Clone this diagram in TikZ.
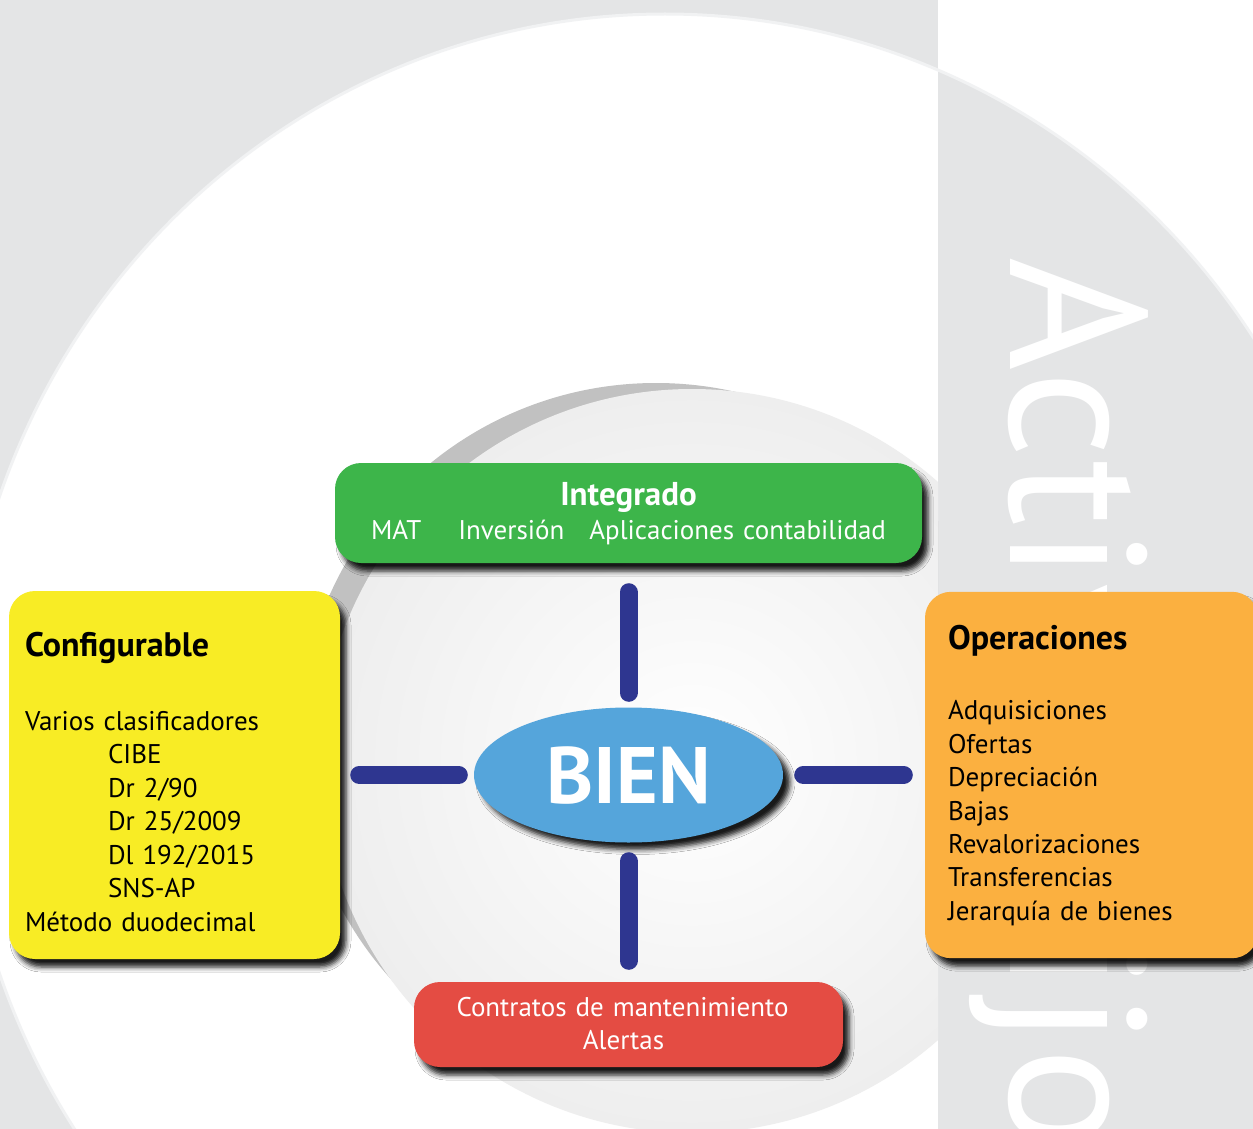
\documentclass[tikz,border=0pt]{standalone}
\usepackage{fontspec}
\setmainfont{PT Sans}
\usetikzlibrary{positioning,shapes.geometric,shadows.blur}

\definecolor{fondo}{HTML}{E4E5E6}
\definecolor{anillo}{HTML}{C1C1C1}
\definecolor{interior}{HTML}{EEEEEE}
\definecolor{verde}{HTML}{3DB54A}
\definecolor{amarillo}{HTML}{F8EC25}
\definecolor{naranja}{HTML}{FBB040}
\definecolor{rojo}{HTML}{E44C43}
\definecolor{azul}{HTML}{55A5DB}
\definecolor{azuloscuro}{HTML}{2E3690}

\begin{document}
\begin{tikzpicture}[x=1pt ,y=-1pt ,node distance =262pt and 454pt ,on grid ,
panel/.style ={rounded corners=26pt ,inner ysep=0pt ,
blur shadow={shadow xshift=6pt ,shadow yshift=-8pt ,shadow blur radius=5pt ,shadow opacity=90}},
conector/.style ={draw=azuloscuro ,line width=18pt ,line cap=round}]
\useasboundingbox (0,0) rectangle (1253,1129);
% fondo y franja
\fill[fondo] (0,0) rectangle (1253,1129);
\fill[white] (665,735) ellipse [x radius=705, y radius=721];
\fill[white] (938,0) rectangle (1253,1129);
\begin{scope}
\clip (938,0) rectangle (1253,1129);
\fill[fondo] (665,735) ellipse [x radius=705, y radius=721];
\end{scope}
\draw[white!50!fondo ,line width=3pt] (665,735) ellipse [x radius=705, y radius=721];
\node[anchor=base west ,rotate=-90 ,inner sep=0pt ,text=white ,
font=\fontsize{194}{194}\selectfont\addfontfeatures{LetterSpace=1.3}] (Titulo) at (1010,257) {Activo Fijo};

% circulo central
\begin{scope}
\clip (0,0) rectangle (938,1129);
\fill[anillo] (656,740) circle [radius=357];
\shade[inner color=white ,outer color=interior] (692,761) circle [radius=372];
\end{scope}

\node[ellipse ,fill=azul ,minimum width=309pt ,minimum height=135pt ,inner sep=0pt ,
text=white ,font=\fontsize{80}{80}\selectfont\bfseries ,
blur shadow={shadow xshift=7pt ,shadow yshift=-7pt ,shadow blur radius=5pt ,shadow opacity=90}] (Bien) at (628.5,775) {BIEN};

\node[panel ,fill=verde ,text=white ,text width=587pt ,inner xsep=0pt ,align=center ,
font=\fontsize{27}{34}\selectfont] (Integrado) [above=of Bien]
{\rule{0pt}{42pt}{\bfseries\fontsize{33}{34}\selectfont Integrado}\\
MAT\hspace{37pt}Inversión\hspace{25pt}Aplicaciones contabilidad\rule[-24pt]{0pt}{24pt}};

\node[panel ,fill=amarillo ,text width=299pt ,inner xsep=16pt ,align=left ,
font=\fontsize{27}{33.5}\selectfont] (Configurable) [left=of Bien]
{\rule{0pt}{65pt}{\bfseries\fontsize{34}{33.5}\selectfont Configurable}\\[40.5pt]
Varios clasificadores\\
\hspace*{83pt}CIBE\\
\hspace*{83pt}Dr 2/90\\
\hspace*{83pt}Dr 25/2009\\
\hspace*{83pt}Dl 192/2015\\
\hspace*{83pt}SNS-AP\\
Método duodecimal\rule[-28pt]{0pt}{28pt}};

\node[panel ,fill=naranja ,text width=287pt ,inner xsep=23pt ,align=left ,
font=\fontsize{27}{33.4}\selectfont] (Operaciones) [right=463pt of Bien]
{\rule{0pt}{58pt}{\bfseries\fontsize{34}{33.4}\selectfont Operaciones}\\[36.6pt]
Adquisiciones\\
Ofertas\\
Depreciación\\
Bajas\\
Revalorizaciones\\
Transferencias\\
Jerarquía de bienes\rule[-38pt]{0pt}{38pt}};

\node[panel ,fill=rojo ,text=white ,text width=429pt ,inner xsep=0pt ,align=center ,
font=\fontsize{27}{33}\selectfont] (Contratos) [below=249.5pt of Bien]
{\rule{0pt}{34pt}Contratos de mantenimiento\rule{12pt}{0pt}\\
Alertas\hspace{10pt}\rule[-18pt]{0pt}{18pt}};

\path (Bien) edge[conector ,shorten <=14.5pt ,shorten >=29pt] (Integrado);
\path (Bien) edge[conector ,shorten <=15pt ,shorten >=19pt] (Configurable);
\path (Bien) edge[conector ,shorten <=20pt ,shorten >=21pt] (Operaciones);
\path (Bien) edge[conector ,shorten <=18.5pt ,shorten >=21pt] (Contratos);
\end{tikzpicture}
\end{document}
